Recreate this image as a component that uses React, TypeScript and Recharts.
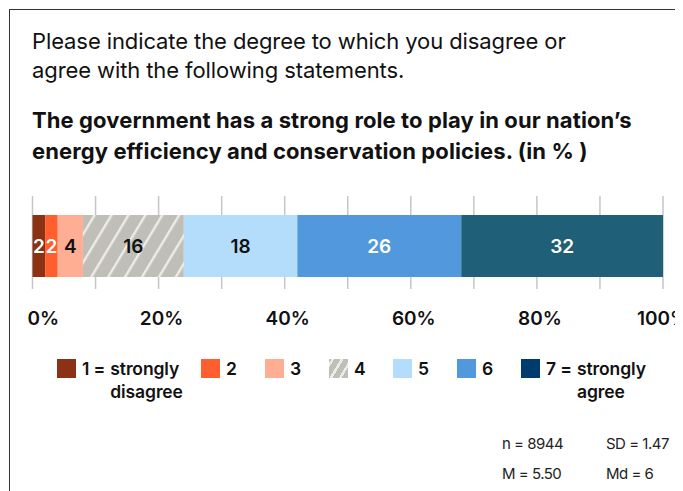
import { BarChart, Bar, XAxis, YAxis, CartesianGrid, LabelList } from 'recharts';

const categories = ['Government role in energy efficiency'];
const seriesKeys = ['r1', 'r2', 'r3', 'r4', 'r5', 'r6', 'r7'];
const shares = [2, 2, 4, 16, 18, 26, 32];
const legendNumbers = ['1', '2', '3', '4', '5', '6', '7'];
const legendNotes = ['strongly\ndisagree', '', '', '', '', '', 'strongly\nagree'];
const xTicks = [0, 10, 20, 30, 40, 50, 60, 70, 80, 90, 100];
const statsRows = [
  ['n = 8944', 'SD = 1.47'],
  ['M = 5.50', 'Md = 6'],
];

const barColors = ['#8B3214', '#FF5F2E', '#FFAE93', 'url(#hatch4)', '#B3DDFB', '#5298DC', '#205F78'];
const legendColors = ['#8B3214', '#FF5F2E', '#FFAE93', 'hatch', '#B3DDFB', '#5298DC', '#003B6F'];
const labelColors = ['#fff', '#fff', '#111', '#111', '#111', '#fff', '#fff'];
const legendWidths = [144, 64, 64, 64, 64, 64, 140];

const FONT = 'Inter, Roboto, sans-serif';

const row: Record<string, string | number> = { name: categories[0] };
seriesKeys.forEach((k, i) => {
  row[k] = shares[i];
});
const data = [row];

function renderTick(props: any) {
  const { x, y, payload, index } = props;
  const v = payload.value as number;
  if (v % 20 !== 0) return <g key={`t-${index}`} />;
  const first = v === 0;
  const last = v === 100;
  return (
    <text
      key={`t-${index}`}
      x={first ? x - 5 : last ? x : x + 3}
      y={y + 22}
      textAnchor={first ? 'start' : 'middle'}
      dominantBaseline="central"
      fontFamily={FONT}
      fontSize={19}
      fontWeight={600}
      fill="#111"
    >
      {v}%
    </text>
  );
}

function renderGridLine(props: any) {
  const { x1, x2, y1, y2, key } = props;
  return <line key={key} x1={x1} x2={x2} y1={y1} y2={y2 - 7} stroke="#c6c6c6" strokeWidth={1.5} />;
}

const hatchCss =
  'repeating-linear-gradient(-59deg, #BFBFB8 0px, #BFBFB8 5.5px, #ecece8 5.5px, #ecece8 8px)';

export default function App() {
  return (
    <div style={{ position: 'relative', width: 675, height: 483, fontFamily: FONT, color: '#111' }}>
      <div
        style={{
          position: 'absolute',
          left: 1,
          top: 1,
          width: 690,
          height: 500,
          borderLeft: '1.5px solid #333',
          borderTop: '1.5px solid #333',
        }}
      />
      <div style={{ position: 'absolute', left: 24, top: 19, fontSize: 22, lineHeight: '29px', letterSpacing: -0.1 }}>
        Please indicate the degree to which you disagree or
        <br />
        agree with the following statements.
      </div>
      <div
        style={{
          position: 'absolute',
          left: 24,
          top: 97,
          fontSize: 22,
          lineHeight: '31px',
          fontWeight: 700,
          letterSpacing: 0.1,
        }}
      >
        The government has a strong role to play in our nation’s
        <br />
        energy efficiency and conservation policies. (in % )
      </div>

      <div style={{ position: 'absolute', left: 0, top: 180 }}>
        <BarChart
          width={675}
          height={150}
          layout="vertical"
          data={data}
          margin={{ top: 8, right: 20, bottom: 0, left: 24.5 }}
          barSize={62}
        >
          <defs>
            <pattern
              id="hatch4"
              patternUnits="userSpaceOnUse"
              width={14.5}
              height={14.5}
              patternTransform="rotate(31)"
            >
              <rect width={14.5} height={14.5} fill="#BFBFB8" />
              <rect x={0} width={2.4} height={14.5} fill="#ecece8" />
            </pattern>
          </defs>
          <CartesianGrid horizontal={false} vertical={renderGridLine} />
          <XAxis
            type="number"
            domain={[0, 100]}
            ticks={xTicks}
            interval={0}
            axisLine={false}
            tickLine={false}
            tickSize={0}
            tickMargin={0}
            height={42}
            tick={renderTick}
          />
          <YAxis type="category" dataKey="name" hide width={0} />
          {seriesKeys.map((k, i) => (
            <Bar key={k} dataKey={k} stackId="a" fill={barColors[i]} isAnimationActive={false}>
              <LabelList
                dataKey={k}
                position="center"
                fill={labelColors[i]}
                fontFamily={FONT}
                fontSize={19}
                fontWeight={600}
              />
            </Bar>
          ))}
        </BarChart>
      </div>

      <div style={{ position: 'absolute', left: 49, top: 349, display: 'flex' }}>
        {legendNumbers.map((n, i) => {
          const note = legendNotes[i];
          return (
            <div key={n} style={{ display: 'flex', alignItems: 'flex-start', width: legendWidths[i] }}>
              <div
                style={{
                  width: 19,
                  height: 19,
                  marginTop: 2,
                  marginRight: 6,
                  flex: 'none',
                  background: legendColors[i] === 'hatch' ? hatchCss : legendColors[i],
                }}
              />
              <div style={{ display: 'flex', fontSize: 17.5, lineHeight: '23px', fontWeight: 600, letterSpacing: -0.1 }}>
                <span>{note ? `${n} =` : n}</span>
                {note && (
                  <span style={{ marginLeft: 5, whiteSpace: 'pre' }}>{note}</span>
                )}
              </div>
            </div>
          );
        })}
      </div>

      <div style={{ position: 'absolute', left: 494, top: 421, fontSize: 15, lineHeight: '30px', color: '#222', letterSpacing: -0.5 }}>
        {statsRows.map((r) => (
          <div key={r[0]} style={{ display: 'flex' }}>
            <span style={{ width: 104 }}>{r[0]}</span>
            <span>{r[1]}</span>
          </div>
        ))}
      </div>
    </div>
  );
}
